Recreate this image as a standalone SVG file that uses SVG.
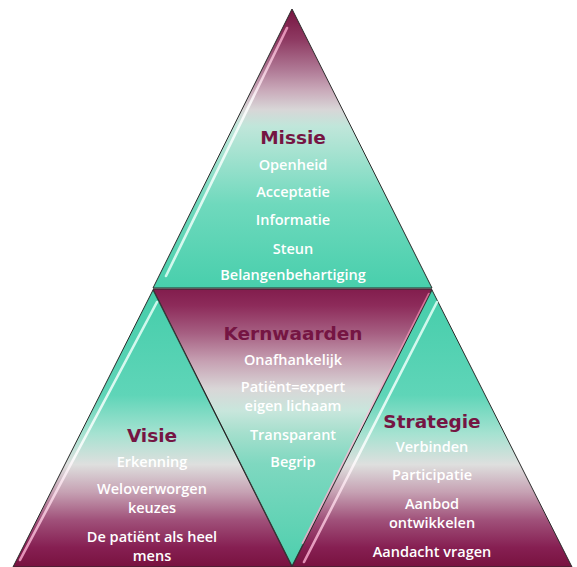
<svg xmlns="http://www.w3.org/2000/svg" width="577" height="567" viewBox="0 0 577 567">
<defs>
<linearGradient id="gTop" x1="0" y1="0" x2="0" y2="1">
<stop offset="0" stop-color="#761440"/>
<stop offset="0.11" stop-color="#8e3a62"/>
<stop offset="0.22" stop-color="#b07a96"/>
<stop offset="0.29" stop-color="#c9a9b9"/>
<stop offset="0.36" stop-color="#d8d6d7"/>
<stop offset="0.42" stop-color="#c0e6da"/>
<stop offset="0.5" stop-color="#aae3d2"/>
<stop offset="0.7" stop-color="#6fd9bd"/>
<stop offset="1" stop-color="#48cfac"/>
</linearGradient>
<linearGradient id="gMid" x1="0" y1="0" x2="0" y2="1">
<stop offset="0" stop-color="#821d4d"/>
<stop offset="0.06" stop-color="#8d2b5a"/>
<stop offset="0.16" stop-color="#a65f82"/>
<stop offset="0.26" stop-color="#c6a0b2"/>
<stop offset="0.36" stop-color="#d9d6d7"/>
<stop offset="0.44" stop-color="#c8e6dc"/>
<stop offset="0.52" stop-color="#a5dfcd"/>
<stop offset="0.63" stop-color="#7fd8c0"/>
<stop offset="1" stop-color="#4dcfad"/>
</linearGradient>
<linearGradient id="gBot" x1="0" y1="0" x2="0" y2="1">
<stop offset="0" stop-color="#45cdaa"/>
<stop offset="0.38" stop-color="#5fd5b8"/>
<stop offset="0.52" stop-color="#a6e2d1"/>
<stop offset="0.63" stop-color="#dedfde"/>
<stop offset="0.73" stop-color="#c6a1b3"/>
<stop offset="0.83" stop-color="#a0517a"/>
<stop offset="0.93" stop-color="#861f52"/>
<stop offset="1" stop-color="#78123f"/>
</linearGradient>
<linearGradient id="hTop" x1="0" y1="0" x2="0" y2="1">
<stop offset="0" stop-color="#f29cc2"/>
<stop offset="0.3" stop-color="#ffffff"/>
<stop offset="1" stop-color="#e6fff7"/>
</linearGradient>
<linearGradient id="hBot" x1="0" y1="0" x2="0" y2="1">
<stop offset="0" stop-color="#e2fff6"/>
<stop offset="0.6" stop-color="#ffffff"/>
<stop offset="1" stop-color="#f5a2c8"/>
</linearGradient>
<linearGradient id="hMid" x1="0" y1="0" x2="0" y2="1">
<stop offset="0" stop-color="#e4729f"/>
<stop offset="0.5" stop-color="#f6c8dc"/>
<stop offset="1" stop-color="#f4a6c8"/>
</linearGradient>
</defs>
<style>
.tri{stroke:#2b2b2b;stroke-width:1;stroke-linejoin:miter}
.hl{fill:none;stroke-width:2.6;stroke-linecap:round;opacity:0.85}
.title{font-family:"DejaVu Sans",Verdana,sans-serif;font-weight:bold;font-size:18.5px;fill:#751543;text-anchor:middle}
.item{font-family:"Open Sans","Liberation Sans",sans-serif;font-weight:600;font-size:14.5px;fill:#ffffff;text-anchor:middle}
</style>

<g id="missie">
<path class="tri" d="M292,9 L432,288 L153,288 Z" fill="url(#gTop)"/>
<line class="hl" x1="287" y1="28" x2="166" y2="276" stroke="url(#hTop)"/>
<text class="title" x="293" y="144">Missie</text>
<text class="item" x="293" y="170">Openheid</text>
<text class="item" x="293" y="197">Acceptatie</text>
<text class="item" x="293" y="225">Informatie</text>
<text class="item" x="293" y="254">Steun</text>
<text class="item" x="293" y="280">Belangenbehartiging</text>
</g>

<g id="kernwaarden">
<path class="tri" d="M153,289 L432,289 L292,566 Z" fill="url(#gMid)"/>
<line class="hl" x1="429" y1="294" x2="303" y2="543" stroke="url(#hMid)"/>
<text class="title" x="293" y="340">Kernwaarden</text>
<text class="item" x="293" y="365">Onafhankelijk</text>
<text class="item" x="293" y="392">Patiënt=expert</text>
<text class="item" x="293" y="411">eigen lichaam</text>
<text class="item" x="293" y="440">Transparant</text>
<text class="item" x="293" y="467">Begrip</text>
</g>

<g id="visie">
<path class="tri" d="M153,290 L292,567 L13,567 Z" fill="url(#gBot)"/>
<line class="hl" x1="157" y1="302" x2="20" y2="560" stroke="url(#hBot)"/>
<text class="title" x="152" y="442">Visie</text>
<text class="item" x="152" y="467">Erkenning</text>
<text class="item" x="152" y="494">Weloverworgen</text>
<text class="item" x="152" y="513">keuzes</text>
<text class="item" x="152" y="542">De patiënt als heel</text>
<text class="item" x="152" y="561">mens</text>
</g>

<g id="strategie">
<path class="tri" d="M432,290 L572,567 L292,567 Z" fill="url(#gBot)"/>
<line class="hl" x1="437" y1="302" x2="304" y2="562" stroke="url(#hBot)"/>
<text class="title" x="432" y="428">Strategie</text>
<text class="item" x="432" y="452">Verbinden</text>
<text class="item" x="432" y="480">Participatie</text>
<text class="item" x="432" y="509">Aanbod</text>
<text class="item" x="432" y="528">ontwikkelen</text>
<text class="item" x="432" y="557">Aandacht vragen</text>
</g>
</svg>
